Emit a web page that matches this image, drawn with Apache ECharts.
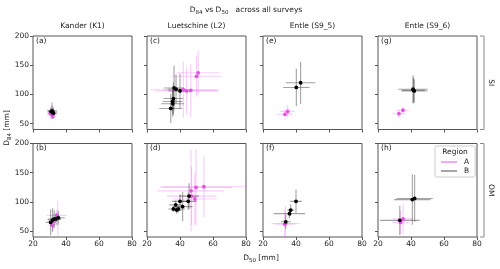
<!DOCTYPE html>
<html><head><meta charset="utf-8">
<script src="https://cdn.jsdelivr.net/npm/echarts@6/dist/echarts.min.js"></script>
<style>html,body{margin:0;padding:0;background:#fff}#c{width:500px;height:269px}</style>
</head><body><div id="c"></div>
<script>
// ---- data ----
const sites = ['Kander (K1)', 'Luetschine (L2)', 'Entle (S9_5)', 'Entle (S9_6)'];
const rowNames = ['SI', 'OM'];
const panelLetters = [['(a)', '(c)', '(e)', '(g)'], ['(b)', '(d)', '(f)', '(h)']];
const regions = ['A', 'B'];
const xTicks = [20, 40, 60, 80];
const yTicks = [50, 100, 150, 200];
// each point: [D50, D84, D50 err, D84 err]
const kanderSI_A = [[31, 66, 2.5, 7], [32, 63, 2, 6], [30.5, 68, 2, 9], [32.5, 67, 3, 8]];
const kanderSI_B = [[31.5, 72, 3, 14], [32, 70, 2.5, 10], [31, 71, 2, 8], [32.3, 68, 2, 9]];
const luetSI_A = [[51, 137, 13, 38], [50, 131, 15, 35], [42, 108, 20, 48], [46.5, 107, 17, 45], [44, 106, 19, 40]];
const luetSI_B = [[36.4, 111, 6, 38], [37.6, 109, 5, 25], [40, 106, 7, 30], [36, 93, 6, 28], [35.6, 88, 6, 20], [35.6, 84, 7, 22], [34.4, 76, 7, 25]];
const entle5SI_A = [[34.9, 71, 4.5, 11], [33.3, 66, 5, 9]];
const entle5SI_B = [[40.2, 112, 8, 32], [42.8, 120, 9, 36]];
const entle6SI_A = [[35.1, 73, 4, 6], [32.7, 67, 4, 7]];
const entle6SI_B = [[41.2, 109, 9, 24], [42, 106, 8, 20], [41.5, 107, 7, 22]];
const kanderOM_A = [[34.4, 77, 6, 10], [31.7, 60, 3, 10], [32.4, 67, 3, 12], [35, 72, 2, 30]];
const kanderOM_B = [[35.3, 73, 4, 12], [32.9, 70.6, 4, 15], [30.7, 65, 3, 22], [31.9, 69, 3, 20], [34, 71, 3, 10]];
const luetOM_A = [[54.5, 126, 25, 52], [49.7, 125, 22, 65], [46.7, 119, 20, 70], [47, 110, 15, 50], [49, 105, 13, 45]];
const luetOM_B = [[45.5, 110, 6, 22], [45, 101, 5, 15], [40, 101, 5, 12], [41.6, 92, 6, 25], [37.4, 95, 4, 8], [36, 88, 3, 5], [38, 86, 3, 6], [39, 88, 4, 6]];
const entle5OM_A = [[33.6, 63, 8.5, 30], [33.2, 62, 6, 25]];
const entle5OM_B = [[40, 101, 3.6, 20], [36.8, 86, 2, 10], [36, 80, 9.5, 8], [33.8, 66, 3, 12]];
const entle6OM_A = [[35.2, 71, 6, 26], [33.7, 65, 5, 20]];
const entle6OM_B = [[40.8, 104, 11, 43], [42.2, 106, 11, 40], [33.2, 68.5, 12, 25]];

const panels = [
  [{A: kanderSI_A, B: kanderSI_B}, {A: luetSI_A, B: luetSI_B}, {A: entle5SI_A, B: entle5SI_B}, {A: entle6SI_A, B: entle6SI_B}],
  [{A: kanderOM_A, B: kanderOM_B}, {A: luetOM_A, B: luetOM_B}, {A: entle5OM_A, B: entle5OM_B}, {A: entle6OM_A, B: entle6OM_B}]
];

// ---- layout / style ----
const FONT = 'DejaVu Sans';
const gridLefts = [33, 147, 263, 378];
const gridTops = [36, 143.5];
const GW = 99, GH = 93.5;
const barColor = {A: 'rgba(238,120,238,0.38)', B: 'rgba(50,50,50,0.45)'};
const ptColor = {A: '#e354e3', B: '#000000'};

function errRender(params, api) {
  const x = api.value(0), y = api.value(1), ex = api.value(2), ey = api.value(3);
  const l = api.coord([x - ex, y]), r = api.coord([x + ex, y]);
  const t = api.coord([x, y + ey]), b = api.coord([x, y - ey]);
  const style = {stroke: api.visual('color'), lineWidth: 1.1};
  return {type: 'group', children: [
    {type: 'line', shape: {x1: l[0], y1: l[1], x2: r[0], y2: r[1]}, style: style},
    {type: 'line', shape: {x1: t[0], y1: t[1], x2: b[0], y2: b[1]}, style: style}
  ]};
}

const grids = [], xAxes = [], yAxes = [], series = [], graphics = [];
let gi = 0;
for (let r = 0; r < 2; r++) {
  for (let c = 0; c < 4; c++) {
    grids.push({left: gridLefts[c], top: gridTops[r], width: GW, height: GH, show: true,
      borderColor: '#555', borderWidth: 1, containLabel: false});
    xAxes.push({gridIndex: gi, type: 'value', min: 20, max: 80, interval: 20,
      axisLine: {show: false}, splitLine: {show: false},
      axisTick: {show: true, inside: false, length: 3, lineStyle: {color: '#555'}},
      axisLabel: {show: r === 1, fontSize: 7.5, color: '#222', fontFamily: FONT, margin: 3}});
    yAxes.push({gridIndex: gi, type: 'value', min: 40, max: 200,
      axisLine: {show: false}, splitLine: {show: false},
      axisTick: {show: true, inside: false, length: 3, customValues: yTicks, lineStyle: {color: '#555'}},
      axisLabel: {show: c === 0, customValues: yTicks, fontSize: 7.5, color: '#222', fontFamily: FONT, margin: 4}});
    for (const reg of regions) {
      series.push({type: 'custom', name: reg, xAxisIndex: gi, yAxisIndex: gi, clip: true,
        renderItem: errRender, itemStyle: {color: barColor[reg]},
        encode: {x: 0, y: 1}, data: panels[r][c][reg], z: 2});
    }
    for (const reg of regions) {
      series.push({type: 'scatter', name: reg, xAxisIndex: gi, yAxisIndex: gi,
        symbolSize: 3.8, itemStyle: {color: ptColor[reg], opacity: 1},
        data: panels[r][c][reg].map(p => [p[0], p[1]]), z: 3});
    }
    graphics.push({type: 'text', left: gridLefts[c] + 3, top: gridTops[r] + 1,
      style: {text: panelLetters[r][c], font: '7.5px "DejaVu Sans"', fill: '#222'}});
    gi++;
  }
}
// column titles
for (let c = 0; c < 4; c++) {
  graphics.push({type: 'text', x: gridLefts[c] + GW / 2, y: 26,
    style: {text: sites[c], font: '7.5px "DejaVu Sans"', fill: '#222', align: 'center', verticalAlign: 'middle'}});
}
// row brackets
for (let r = 0; r < 2; r++) {
  const t = gridTops[r], b = gridTops[r] + GH;
  graphics.push({type: 'polyline', shape: {points: [[480, t], [484, t], [484, b], [480, b]]},
    style: {stroke: '#888', lineWidth: 1, fill: null}});
  graphics.push({type: 'text', x: 491, y: (t + b) / 2, rotation: -Math.PI / 2,
    style: {text: rowNames[r], font: '7.5px "DejaVu Sans"', fill: '#222', align: 'center', verticalAlign: 'middle'}});
}
// main title with subscripts
graphics.push({type: 'text', x: 246, y: 10,
  style: {text: '{n|D}{s|84}{n| vs D}{s|50}{n|   across all surveys}', align: 'center', verticalAlign: 'middle',
    rich: {n: {fontSize: 7.5, fontFamily: FONT, fill: '#222', lineHeight: 12},
           s: {fontSize: 5.5, fontFamily: FONT, fill: '#222', lineHeight: 12, padding: [5, 0, 0, 0]}}}});
// axis labels
graphics.push({type: 'text', x: 261, y: 258,
  style: {text: '{n|D}{s|50}{n| [mm]}', align: 'center', verticalAlign: 'middle',
    rich: {n: {fontSize: 7.5, fontFamily: FONT, fill: '#222', lineHeight: 12},
           s: {fontSize: 5.5, fontFamily: FONT, fill: '#222', lineHeight: 12, padding: [5, 0, 0, 0]}}}});
graphics.push({type: 'text', x: 7, y: 128, rotation: Math.PI / 2,
  style: {text: '{n|D}{s|84}{n| [mm]}', align: 'center', verticalAlign: 'middle',
    rich: {n: {fontSize: 7.5, fontFamily: FONT, fill: '#222', lineHeight: 12},
           s: {fontSize: 5.5, fontFamily: FONT, fill: '#222', lineHeight: 12, padding: [5, 0, 0, 0]}}}});
// legend title
graphics.push({type: 'text', x: 455, y: 152, z: 100,
  style: {text: 'Region', font: '7.5px "DejaVu Sans"', fill: '#222', align: 'center', verticalAlign: 'middle'}});

const chart = echarts.init(document.getElementById('c'), null, {renderer: 'canvas'});
chart.setOption({
  animation: false,
  backgroundColor: '#fff',
  grid: grids, xAxis: xAxes, yAxis: yAxes, series: series,
  legend: {left: 435, top: 146, orient: 'vertical', padding: [12, 6, 2, 6], itemGap: 1,
    itemWidth: 16, itemHeight: 1.5, icon: 'rect', backgroundColor: '#fff',
    borderColor: '#ccc', borderWidth: 1, borderRadius: 2,
    textStyle: {fontSize: 7.5, fontFamily: FONT, color: '#222', padding: [0, 0, 0, 2]},
    data: [{name: 'A', itemStyle: {color: '#f08cf0'}}, {name: 'B', itemStyle: {color: '#888'}}]},
  graphic: graphics
});
</script></body></html>
